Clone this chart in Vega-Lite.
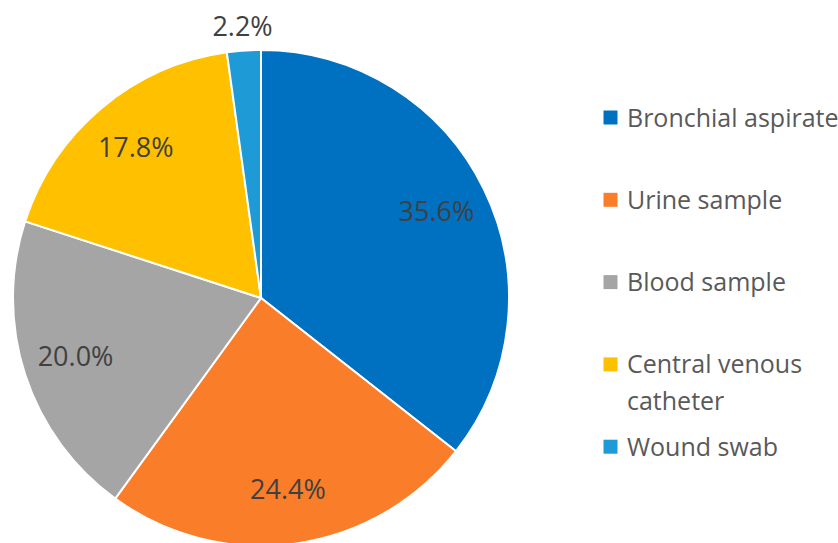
{
  "$schema": "https://vega.github.io/schema/vega-lite/v6.json",
  "width": 522,
  "height": 496,
  "padding": {"top": 50, "left": 0, "right": 316, "bottom": 0},
  "autosize": {"type": "none"},
  "background": "white",
  "config": {
    "view": {"stroke": null},
    "font": "Open Sans",
    "style": {"guide-label": {"lineHeight": 37, "dy": -11}}
  },
  "data": {
    "values": [
      {"source": "Bronchial aspirate", "pct": 35.6, "order": 1, "label": "35.6%"},
      {"source": "Urine sample", "pct": 24.4, "order": 2, "label": "24.4%"},
      {"source": "Blood sample", "pct": 20.0, "order": 3, "label": "20.0%"},
      {"source": "Central venous catheter", "pct": 17.8, "order": 4, "label": "17.8%"},
      {"source": "Wound swab", "pct": 2.2, "order": 5, "label": "2.2%"}
    ]
  },
  "encoding": {
    "theta": {"field": "pct", "type": "quantitative", "stack": true},
    "order": {"field": "order", "type": "quantitative"}
  },
  "layer": [
    {
      "mark": {"type": "arc", "outerRadius": 248, "stroke": "white", "strokeWidth": 2},
      "encoding": {
        "color": {
          "field": "source",
          "type": "nominal",
          "sort": ["Bronchial aspirate", "Urine sample", "Blood sample", "Central venous catheter", "Wound swab"],
          "scale": {
            "domain": ["Bronchial aspirate", "Urine sample", "Blood sample", "Central venous catheter", "Wound swab"],
            "range": ["#0070C0", "#FA7D2A", "#A5A5A5", "#FFC000", "#1E9BD7"]
          },
          "legend": {
            "title": null,
            "orient": "none",
            "legendX": 598,
            "legendY": 55,
            "symbolType": "square",
            "symbolSize": 196,
            "symbolStrokeWidth": 0,
            "labelFontSize": 25,
            "labelColor": "#595959",
            "labelOffset": 4,
            "gridAlign": "all",
            "rowPadding": 18.3,
            "labelLimit": 400,
            "labelBaseline": "top",
            "labelExpr": "datum.label == 'Central venous catheter' ? ['Central venous', 'catheter'] : datum.label"
          }
        }
      }
    },
    {
      "transform": [{"filter": "datum.order < 5"}],
      "mark": {"type": "text", "radius": 195, "fontSize": 27, "color": "#404040"},
      "encoding": {"text": {"field": "label"}}
    },
    {
      "transform": [{"filter": "datum.order == 5"}],
      "mark": {"type": "text", "radius": 271, "fontSize": 27, "color": "#404040"},
      "encoding": {"text": {"field": "label"}, "theta": {"value": 6.215}}
    }
  ]
}
